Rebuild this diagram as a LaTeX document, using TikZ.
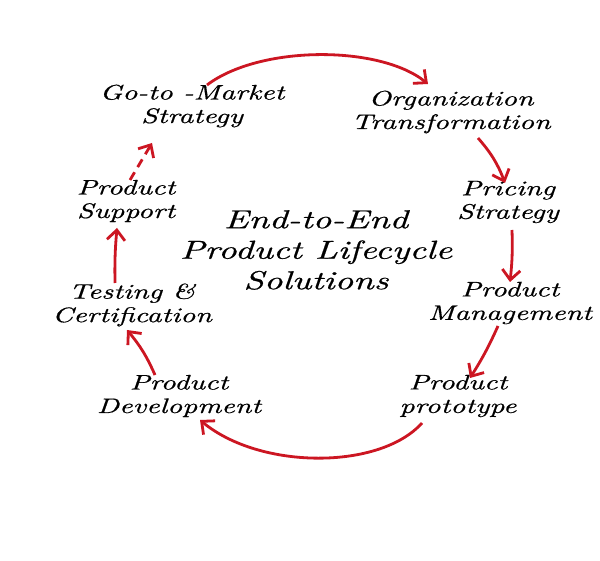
\documentclass[tikz,border=0pt]{standalone}
\usepackage{fontspec}
\usetikzlibrary{arrows.meta}
\newfontfamily\handfont{lmroman10-italic.otf}[FakeStretch=1.4,FakeBold=0.6]
\definecolor{arrred}{RGB}{204,22,34}
\tikzset{
  lbl/.style={font=\handfont\fontsize{21}{23.5}\selectfont, align=center, inner sep=0pt, text=black},
  ttl/.style={font=\handfont\fontsize{26}{30.5}\selectfont, align=center, inner sep=0pt, text=black},
  arr/.style={draw=arrred, line width=2.8pt, -{Straight Barb[length=10pt,width=18pt,line width=2.8pt]}},
  darr/.style={arr, dash pattern=on 9pt off 6pt}
}
\begin{document}
\begin{tikzpicture}[x=1pt,y=-1pt]
\useasboundingbox (0,0) rectangle (600,561);
\fill[white] (0,0) rectangle (600,561);
\node[lbl] (gtm) at (192,106) {Go-to -Market\\Strategy};
\node[lbl] (org) at (451,112) {Organization\\Transformation};
\node[lbl] (pri) at (508,202) {Pricing\\Strategy};
\node[lbl] (mgmt) at (510,303) {Product\\Management};
\node[lbl] (proto) at (458,396) {Product\\prototype};
\node[lbl] (dev) at (179,396) {Product\\Development};
\node[lbl] (test) at (132,305) {Testing \&\\Certification};
\node[lbl] (sup) at (126,201) {Product\\Support};
\node[ttl] (title) at (316,250) {End-to-End\\Product Lifecycle\\Solutions};
% arrows
\draw[arr] ([shift={(15,-21)}]gtm.center) .. controls +(53,-40) and +(-48,-39) .. ([shift={(-23,-28)}]org.center);
\draw[arr] ([shift={(27,26)}]org.center) to[bend left=10] ([shift={(-3,-19)}]pri.center);
\draw[arr] ([shift={(4,28)}]pri.center) to[bend left=4] ([shift={(0,-21)}]mgmt.center);
\draw[arr] ([shift={(-12,23)}]mgmt.center) to[bend left=4] ([shift={(12,-18)}]proto.center);
\draw[arr] ([shift={(-36,27)}]proto.center) .. controls +(-42,47) and +(60,50) .. ([shift={(21,24)}]dev.center);
\draw[arr] ([shift={(-24,-21)}]dev.center) to[bend right=8] ([shift={(-5,25)}]test.center);
\draw[arr] ([shift={(-17,-22)}]test.center) to[bend left=3] ([shift={(-9,27)}]sup.center);
\draw[darr] ([shift={(4,-21)}]sup.center) -- ([shift={(-40,37)}]gtm.center);
\end{tikzpicture}
\end{document}
